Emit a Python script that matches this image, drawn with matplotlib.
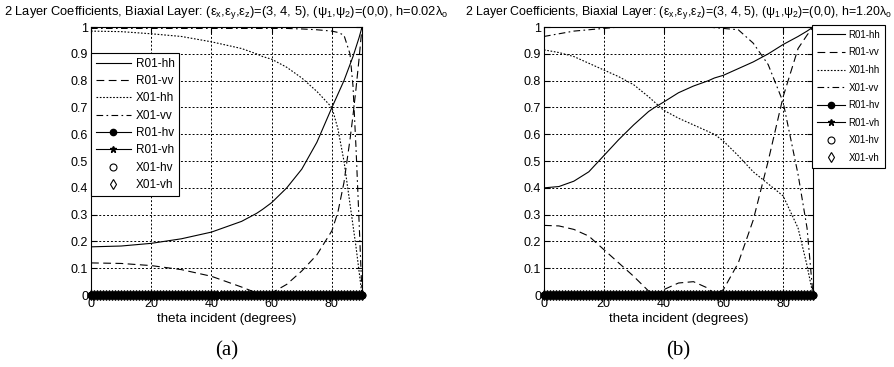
import numpy as np
import matplotlib
matplotlib.use('Agg')
import matplotlib.pyplot as plt

plt.rcParams['font.family'] = ['Liberation Sans', 'DejaVu Sans']
plt.rcParams['mathtext.fontset'] = 'custom'
plt.rcParams['mathtext.rm'] = 'Liberation Sans'
plt.rcParams['mathtext.it'] = 'Liberation Sans'

# panel (a): h = 0.02 lambda_o
theta_a = [0, 10, 20, 30, 40, 50, 55, 57, 60, 65, 70, 75, 80, 82, 84, 86, 87, 88, 89, 90]
r_hh_a = [0.18, 0.183, 0.193, 0.21, 0.235, 0.275, 0.305, 0.32, 0.345, 0.40, 0.47, 0.57, 0.70,
          0.75, 0.80, 0.86, 0.89, 0.925, 0.96, 1.0]
r_vv_a = [0.12, 0.118, 0.11, 0.095, 0.07, 0.03, 0.008, 0.0, 0.008, 0.04, 0.09, 0.15, 0.24,
          0.31, 0.42, 0.58, 0.67, 0.77, 0.88, 1.0]
x_hh_a = [0.985, 0.983, 0.975, 0.965, 0.945, 0.92, 0.90, 0.89, 0.88, 0.85, 0.81, 0.76, 0.70,
          0.62, 0.50, 0.34, 0.26, 0.18, 0.09, 0.0]
x_vv_a = [0.995, 0.995, 0.995, 0.995, 0.995, 0.995, 0.995, 0.995, 0.995, 0.995, 0.993, 0.99, 0.985,
          0.98, 0.97, 0.90, 0.78, 0.55, 0.28, 0.0]

# panel (b): h = 1.20 lambda_o
theta_b = [0, 5, 10, 15, 20, 25, 30, 35, 37, 40, 45, 50, 55, 57, 60, 65, 70, 75, 80, 85, 88, 90]
r_hh_b = [0.40, 0.405, 0.425, 0.46, 0.52, 0.58, 0.635, 0.685, 0.70, 0.72, 0.755, 0.78, 0.80,
          0.81, 0.82, 0.845, 0.87, 0.90, 0.935, 0.965, 0.985, 1.0]
r_vv_b = [0.26, 0.258, 0.245, 0.22, 0.17, 0.12, 0.07, 0.015, 0.0, 0.02, 0.045, 0.05, 0.025,
          0.0, 0.02, 0.12, 0.28, 0.50, 0.74, 0.92, 0.97, 1.0]
x_hh_b = [0.915, 0.905, 0.89, 0.865, 0.84, 0.815, 0.785, 0.74, 0.72, 0.69, 0.66, 0.635, 0.61,
          0.60, 0.575, 0.52, 0.46, 0.415, 0.37, 0.25, 0.11, 0.0]
x_vv_b = [0.965, 0.975, 0.985, 0.99, 0.995, 1.0, 1.0, 1.0, 1.0, 1.0, 1.0, 1.0, 1.0,
          0.998, 0.995, 0.99, 0.94, 0.86, 0.72, 0.45, 0.25, 0.0]

# cross-pol terms are zero everywhere
theta_zero = np.arange(0, 91)
zero_vals = np.zeros(len(theta_zero))

titles = [r'2 Layer Coefficients, Biaxial Layer: (ε$_x$,ε$_y$,ε$_z$)=(3, 4, 5), (ψ$_1$,ψ$_2$)=(0,0), h=0.02λ$_o$',
          r'2 Layer Coefficients, Biaxial Layer: (ε$_x$,ε$_y$,ε$_z$)=(3, 4, 5), (ψ$_1$,ψ$_2$)=(0,0), h=1.20λ$_o$']
title_sizes = [9.3, 8.9]
sub_labels = ['(a)', '(b)']
yticks = [0, 0.1, 0.2, 0.3, 0.4, 0.5, 0.6, 0.7, 0.8, 0.9, 1]
ytick_labels = ['0', '0.1', '0.2', '0.3', '0.4', '0.5', '0.6', '0.7', '0.8', '0.9', '1']
xticks = [0, 20, 40, 60, 80]

fig = plt.figure(figsize=(8.95, 3.67), dpi=100)
ax_a = fig.add_axes([0.1017, 0.196, 0.3028, 0.7302])
ax_b = fig.add_axes([0.6078, 0.196, 0.3006, 0.7302])

panels = [(ax_a, theta_a, r_hh_a, r_vv_a, x_hh_a, x_vv_a),
          (ax_b, theta_b, r_hh_b, r_vv_b, x_hh_b, x_vv_b)]

lw = 0.8
for i, (ax, th, rhh, rvv, xhh, xvv) in enumerate(panels):
    ax.plot(th, rhh, color='k', lw=lw, label='R01-hh')
    ax.plot(th, rvv, color='k', lw=lw, linestyle=(0, (7, 4)), label='R01-vv')
    ax.plot(th, xhh, color='k', lw=lw, linestyle=(0, (1.5, 1.5)), label='X01-hh')
    ax.plot(th, xvv, color='k', lw=lw, linestyle=(0, (6, 3, 1.5, 3)), label='X01-vv')
    ax.plot(theta_zero, zero_vals, color='k', lw=lw, marker='.', ms=9, label='R01-hv', clip_on=False)
    ax.plot(theta_zero, zero_vals, color='k', lw=lw, marker='*', ms=5, label='R01-vh', clip_on=False)
    ax.plot(theta_zero, zero_vals, color='k', lw=0, marker='o', ms=5, mfc='none', mew=0.8,
            label='X01-hv', clip_on=False)
    ax.plot(theta_zero, zero_vals, color='k', lw=0, marker='d', ms=5, mfc='none', mew=0.8,
            label='X01-vh', clip_on=False)

    ax.set_xlim(0, 90)
    ax.set_ylim(0, 1)
    ax.set_xticks(xticks)
    ax.set_yticks(yticks)
    ax.set_yticklabels(ytick_labels)
    ax.tick_params(direction='in', length=4, labelsize=9, top=True, right=True, pad=2)
    ax.grid(True, color='k', linestyle=(0, (2, 2)), lw=0.7)
    for s in ax.spines.values():
        s.set_linewidth(0.8)
    ax.set_title(titles[i], fontsize=title_sizes[i], pad=9)
    ax.set_xlabel('theta incident (degrees)', fontsize=9.5, labelpad=2)
    box = ax.get_position()
    fig.text(box.x0 + box.width / 2, 0.045, sub_labels[i], ha='center', va='center',
             fontsize=15, family='Liberation Serif')

leg_a = ax_a.legend(loc='upper left', bbox_to_anchor=(0.0, 0.903), fontsize=8.5, frameon=True,
                    fancybox=False, edgecolor='k', framealpha=1, handlelength=3, borderaxespad=0,
                    borderpad=0.4, labelspacing=0.45, handletextpad=0.4)
leg_b = ax_b.legend(loc='upper left', bbox_to_anchor=(0.995, 1.008), fontsize=7, frameon=True,
                    fancybox=False, edgecolor='k', framealpha=1, handlelength=2.9, borderaxespad=0,
                    borderpad=0.5, labelspacing=0.78, handletextpad=0.4)
for leg in (leg_a, leg_b):
    leg.get_frame().set_linewidth(0.8)

fig.savefig('out.png', dpi=100)
